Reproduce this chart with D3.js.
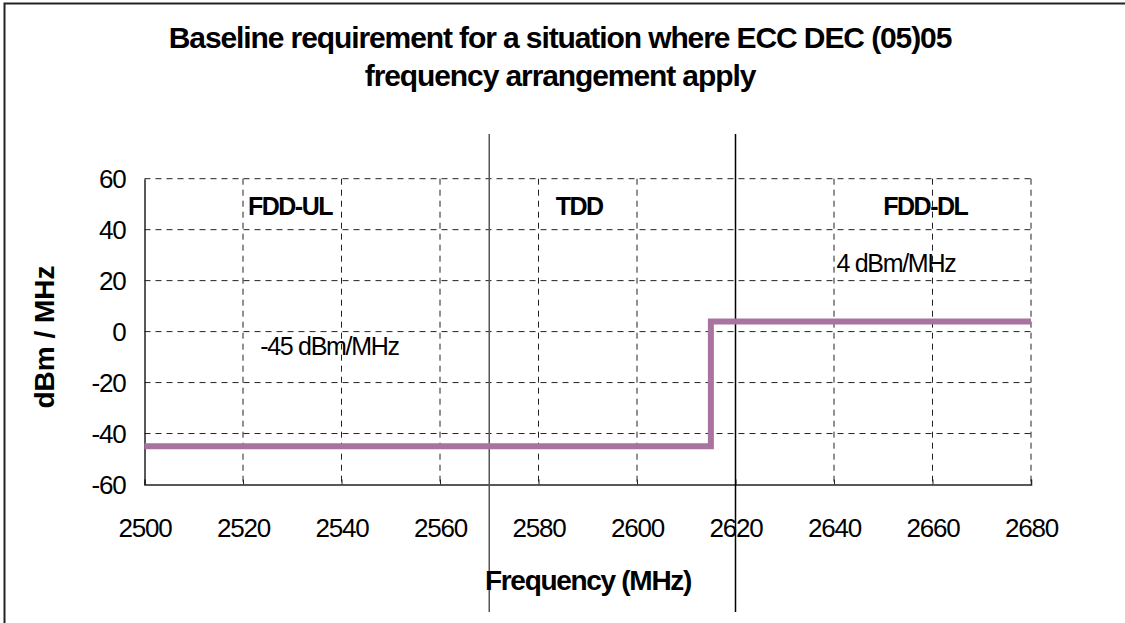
<!DOCTYPE html>
<html><head><meta charset="utf-8">
<script src="https://cdn.jsdelivr.net/npm/d3@7"></script>
<style>
body{margin:0;background:#fff;}
text{font-family:"Liberation Sans",Arial,sans-serif;}
</style></head>
<body><svg id="c" width="1125" height="623"></svg>
<script>
const titleLines = ["Baseline requirement for a situation where ECC DEC (05)05", "frequency arrangement apply"];
const xTicks = [2500,2520,2540,2560,2580,2600,2620,2640,2660,2680];
const yTicks = [60,40,20,0,-20,-40,-60];
const stepFreq = [2500, 2615, 2615, 2680];
const stepLevel = [-45, -45, 4, 4];
const bandEdges = [2570, 2620];
const bandNames = ["FDD-UL","TDD","FDD-DL"];
const bandNameFreq = [2521, 2583.5, 2650];
const annText = ["-45 dBm/MHz","4 dBm/MHz"];
const annFreq = [2523.5, 2640.5];
const annLevel = [-9.2, 23.4];

const svg = d3.select("#c");
const L=144.5, R=1031, T=178.7, B=484.5;
const x = d3.scaleLinear().domain([2500,2680]).range([L,R]);
const y = d3.scaleLinear().domain([-60,60]).range([B,T]);

svg.append("rect").attr("x",4.5).attr("y",3.5).attr("width",1130).attr("height",640)
  .attr("fill","none").attr("stroke","#222").attr("stroke-width",2);

const t = svg.append("g");
titleLines.forEach((s,i)=>t.append("text").attr("x",560).attr("y",48+i*38)
  .attr("text-anchor","middle").attr("font-size",30).attr("font-weight","bold")
  .attr("letter-spacing","-1.1").text(s));

// grid
const g = svg.append("g");
xTicks.slice(1).forEach(v=>g.append("line").attr("x1",x(v)).attr("x2",x(v)).attr("y1",T).attr("y2",B)
  .attr("stroke","#222").attr("stroke-width",1).attr("stroke-dasharray","6,5"));
yTicks.slice(0,-1).forEach(v=>g.append("line").attr("x1",L).attr("x2",R).attr("y1",y(v)).attr("y2",y(v))
  .attr("stroke","#222").attr("stroke-width",1).attr("stroke-dasharray","6,5"));

// axes
const fmt = d => String(d);
const xa = svg.append("g").attr("transform",`translate(0,${B})`)
  .call(d3.axisBottom(x).tickValues(xTicks).tickSize(-5).tickPadding(34).tickFormat(fmt));
const ya = svg.append("g").attr("transform",`translate(${L},0)`)
  .call(d3.axisLeft(y).tickValues(yTicks).tickSize(0).tickPadding(19).tickFormat(fmt));
[xa,ya].forEach(a=>{
  a.select(".domain").attr("stroke","#222").attr("stroke-width",1.5);
  a.selectAll(".tick line").attr("stroke","#222");
  a.selectAll("text").attr("font-size",26).attr("fill","#000").attr("letter-spacing","-1.2")
   .attr("font-family","Liberation Sans, Arial, sans-serif");
});
xa.selectAll("text").attr("dy","0.71em");
ya.selectAll("text").attr("dy","0.35em");

// band edges
bandEdges.forEach((v,i)=>svg.append("line").attr("x1",x(v)).attr("x2",x(v)).attr("y1",134).attr("y2",612)
  .attr("stroke",i==0?"#555":"#000").attr("stroke-width",1.5));

// step line
const pts = stepFreq.map((f,i)=>[x(f),y(stepLevel[i])]);
svg.append("path").attr("d",d3.line()(pts)).attr("fill","none")
  .attr("stroke","#a8739f").attr("stroke-width",6).attr("stroke-linejoin","miter");

// labels
bandNames.forEach((s,i)=>svg.append("text").attr("x",x(bandNameFreq[i])).attr("y",y(45.75))
  .attr("font-size",25).attr("font-weight","bold").attr("letter-spacing","-1.5").text(s));
annText.forEach((s,i)=>svg.append("text").attr("x",x(annFreq[i])).attr("y",y(annLevel[i]))
  .attr("font-size",25).attr("letter-spacing","-1.3").text(s));

svg.append("text").attr("x",588).attr("y",590).attr("text-anchor","middle")
  .attr("font-size",28).attr("font-weight","bold").attr("letter-spacing","-1.3").text("Frequency (MHz)");
svg.append("text").attr("transform","translate(54,337) rotate(-90)").attr("text-anchor","middle")
  .attr("font-size",28).attr("font-weight","bold").attr("letter-spacing","0").text("dBm / MHz");
</script></body></html>
